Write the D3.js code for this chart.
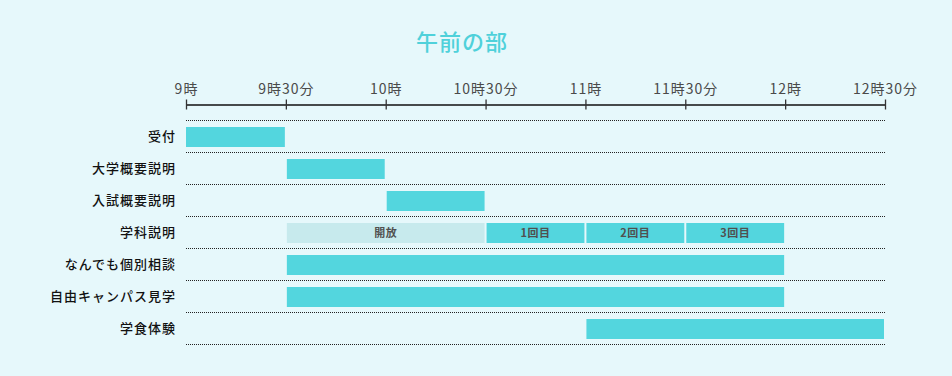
<!DOCTYPE html>
<html>
<head>
<meta charset="utf-8">
<script src="https://cdn.jsdelivr.net/npm/d3@7"></script>
<style>
    html, body { margin: 0; padding: 0; background: #e6f8fb; }
    svg { display: block; font-family: "Noto Sans CJK JP", "Noto Sans", sans-serif; }
</style>
</head>
<body>
<div id="chart"></div>
<script>
    // rows of the schedule
    var categories = ['受付', '大学概要説明', '入試概要説明', '学科説明', 'なんでも個別相談', '自由キャンパス見学', '学食体験'];

    // time axis, minutes from midnight
    var tickValues = [540, 570, 600, 630, 660, 690, 720, 750];
    var tickLabels = ['9時', '9時30分', '10時', '10時30分', '11時', '11時30分', '12時', '12時30分'];

    // bars
    var taskRow   = ['受付', '大学概要説明', '入試概要説明', '学科説明', '学科説明', '学科説明', '学科説明', 'なんでも個別相談', '自由キャンパス見学', '学食体験'];
    var taskStart = [540, 570, 600, 570, 630, 660, 690, 570, 570, 660];
    var taskEnd   = [570, 600, 630, 630, 660, 690, 720, 720, 720, 750];
    var taskLabel = ['', '', '', '開放', '1回目', '2回目', '3回目', '', '', ''];
    var taskOpen  = [false, false, false, true, false, false, false, false, false, false];

    var width = 952, height = 376;

    var svg = d3.select('#chart').append('svg')
        .attr('width', width)
        .attr('height', height);

    var x = d3.scaleLinear()
        .domain([540, 750])
        .range([186, 885]);

    var y = d3.scaleBand()
        .domain(categories)
        .range([120, 120 + 32 * categories.length])
        .padding(0);

    // title
    svg.append('text')
        .attr('x', 462)
        .attr('y', 50)
        .attr('text-anchor', 'middle')
        .style('font-size', '22px')
        .style('font-weight', '500')
        .style('letter-spacing', '1px')
        .style('fill', '#4fd1da')
        .text('午前の部');

    // time axis
    var axis = d3.axisTop(x)
        .tickValues(tickValues)
        .tickFormat(function (d, i) { return tickLabels[i]; })
        .tickSizeInner(5)
        .tickSizeOuter(0)
        .tickPadding(6);

    var gAxis = svg.append('g')
        .attr('transform', 'translate(0,104.5)')
        .call(axis);

    gAxis.select('.domain')
        .attr('stroke', '#111')
        .attr('stroke-width', 1.3);
    gAxis.selectAll('.tick line')
        .attr('y1', 5)
        .attr('y2', -5)
        .attr('stroke', '#333')
        .attr('stroke-width', 1.3);
    gAxis.selectAll('.tick text')
        .attr('y', -11)
        .style('font-size', '14px')
        .style('letter-spacing', '1px')
        .style('fill', '#4a4a4a')
        .style('font-family', '"Noto Sans CJK JP", sans-serif');

    // dotted row separators
    var lines = [y.range()[0]].concat(categories.map(function (c) { return y(c) + y.bandwidth(); }));
    svg.append('g')
        .selectAll('line')
        .data(lines)
        .enter()
        .append('line')
        .attr('x1', x(540))
        .attr('x2', x(750))
        .attr('y1', function (d) { return Math.round(d) + 0.5; })
        .attr('y2', function (d) { return Math.round(d) + 0.5; })
        .attr('stroke', '#222')
        .attr('stroke-width', 1)
        .attr('stroke-dasharray', '1,1');

    // row labels
    svg.append('g')
        .selectAll('text')
        .data(categories)
        .enter()
        .append('text')
        .attr('x', 176)
        .attr('y', function (d) { return y(d) + y.bandwidth() / 2; })
        .attr('dy', '0.35em')
        .attr('text-anchor', 'end')
        .style('font-size', '13px')
        .style('font-weight', '500')
        .style('letter-spacing', '1px')
        .style('fill', '#111')
        .text(function (d) { return d; });

    // bars
    var tasks = taskRow.map(function (r, i) {
        return { row: r, start: taskStart[i], end: taskEnd[i], label: taskLabel[i], open: taskOpen[i] };
    });

    var bars = svg.append('g')
        .selectAll('g')
        .data(tasks)
        .enter()
        .append('g');

    bars.append('rect')
        .attr('x', function (d) { return x(d.start) + (d.start === 540 ? 0 : 1); })
        .attr('y', function (d) { return y(d.row) + 7; })
        .attr('width', function (d) { return x(d.end) - x(d.start) - (d.start === 540 ? 1 : 2); })
        .attr('height', 20)
        .style('fill', function (d) { return d.open ? '#c7eaed' : '#53d6de'; });

    bars.append('text')
        .attr('x', function (d) { return (x(d.start) + x(d.end)) / 2; })
        .attr('y', function (d) { return y(d.row) + 17; })
        .attr('dy', '0.35em')
        .attr('text-anchor', 'middle')
        .style('font-size', '11px')
        .style('font-weight', 'bold')
        .style('letter-spacing', '0.5px')
        .style('fill', '#505050')
        .text(function (d) { return d.label; });
</script>
</body>
</html>
